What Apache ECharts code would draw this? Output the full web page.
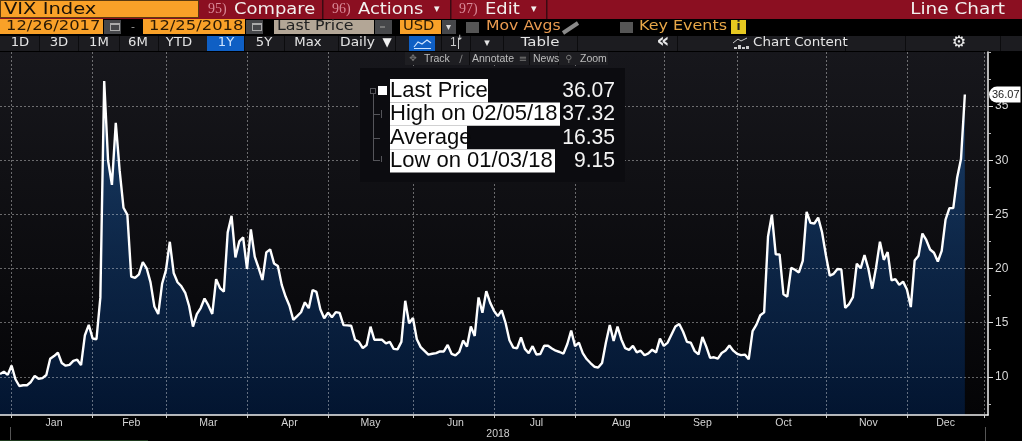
<!DOCTYPE html>
<html><head><meta charset="utf-8">
<style>html,body{margin:0;padding:0;background:#000}#c{width:1022px;height:441px}</style>
<script src="https://cdn.jsdelivr.net/npm/echarts@6/dist/echarts.min.js"></script>
</head><body><div id="c"></div>
<script>
const monthNames = ['Dec','Jan','Feb','Mar','Apr','May','Jun','Jul','Aug','Sep','Oct','Nov','Dec'];
const days = [
 [26,27,28,29],
 [2,3,4,5,8,9,10,11,12,16,17,18,19,22,23,24,25,26,29,30,31],
 [1,2,5,6,7,8,9,12,13,14,15,16,20,21,22,23,26,27,28],
 [1,2,5,6,7,8,9,12,13,14,15,16,19,20,21,22,23,26,27,28,29],
 [2,3,4,5,6,9,10,11,12,13,16,17,18,19,20,23,24,25,26,27,30],
 [1,2,3,4,7,8,9,10,11,14,15,16,17,18,21,22,23,24,25,29,30,31],
 [1,4,5,6,7,8,11,12,13,14,15,18,19,20,21,22,25,26,27,28,29],
 [2,3,5,6,9,10,11,12,13,16,17,18,19,20,23,24,25,26,27,30,31],
 [1,2,3,6,7,8,9,10,13,14,15,16,17,20,21,22,23,24,27,28,29,30,31],
 [4,5,6,7,10,11,12,13,14,17,18,19,20,21,24,25,26,27,28],
 [1,2,3,4,5,8,9,10,11,12,15,16,17,18,19,22,23,24,25,26,29,30,31],
 [1,2,5,6,7,8,9,12,13,14,15,16,19,20,21,23,26,27,28,29,30],
 [3,4,6,7,10,11,12,13,14,17,18,19,20,21,24,25,26,27,28,31]
];
const vixDec17 = [10.25,10.47,10.18,11.04];
const vixJan = [9.77,9.15,9.22,9.22,9.52,10.08,9.82,9.88,10.16,11.66,11.91,12.22,11.27,11.03,11.10,11.47,11.58,11.08,13.84,14.79,13.54];
const vixFeb = [13.47,17.31,37.32,29.98,27.73,33.46,29.06,25.61,24.97,19.26,19.13,19.46,20.60,20.02,18.72,16.49,15.80,18.59,19.85];
const vixMar = [22.47,19.59,18.73,18.36,17.76,16.54,14.64,15.78,16.35,17.23,16.59,15.80,19.02,18.20,17.86,23.34,24.87,21.03,22.50,22.87,19.97];
const vixApr = [23.62,21.10,20.06,18.94,21.49,21.77,20.47,20.24,18.49,17.41,16.56,15.25,15.60,15.96,16.88,16.34,18.02,17.84,16.24,15.41,15.93];
const vixMay = [15.49,15.97,15.90,14.77,14.75,14.71,13.42,13.23,12.65,12.93,14.63,13.42,13.43,13.42,13.08,13.22,12.58,12.53,13.22,17.02,14.94,15.43];
const vixJun = [13.46,12.74,12.40,12.05,12.13,12.18,12.35,12.34,12.94,12.12,11.98,12.31,13.35,12.79,14.64,13.77,17.33,15.92,17.91,16.85,16.09];
const vixJul = [15.60,16.14,14.97,13.37,12.69,12.64,13.63,12.58,12.18,12.83,12.06,12.10,12.87,12.86,12.62,12.41,12.29,12.14,13.03,14.26,12.83];
const vixAug = [13.15,12.19,11.64,11.27,10.93,10.85,11.27,13.16,14.78,13.31,14.64,13.45,12.64,12.49,12.86,12.25,12.41,11.99,12.16,12.50,12.25,13.53,12.86];
const vixSep = [13.16,13.91,14.65,14.88,14.16,13.22,13.14,12.37,12.07,13.68,12.79,11.75,11.80,11.68,12.20,12.42,12.89,12.41,12.12];
const vixOct = [12.00,12.05,11.61,14.22,14.82,15.69,15.95,22.96,24.98,21.31,21.30,17.62,17.40,20.06,19.89,19.64,20.71,25.23,24.22,24.16,24.70,23.35,21.23];
const vixNov = [19.34,19.51,19.96,19.91,16.36,16.72,17.36,20.45,20.02,21.25,19.98,18.14,20.10,22.48,20.80,21.52,18.90,19.02,18.49,18.79,18.07];
const vixDec = [16.44,20.74,21.19,23.23,22.64,21.76,21.46,20.65,21.63,24.52,25.58,25.58,28.38,30.11,36.07];
const yTickLabels = [10,15,20,25,30,35];
const yMinorTicks = [7.5,12.5,17.5,22.5,27.5,32.5,37.5,40];
const yMin = 6.47, yMax = 40;
const lastPrice = 36.07;
const legendRows = [
 ['Last Price','36.07'],['High on 02/05/18','37.32'],['Average','16.35'],['Low on 01/03/18','9.15']
];

const vix = [].concat(vixDec17,vixJan,vixFeb,vixMar,vixApr,vixMay,vixJun,vixJul,vixAug,vixSep,vixOct,vixNov,vixDec);
const categories = [];
const tickIdx = new Set(), labelMap = {};
let prevEnd = null;
days.forEach((ds,m)=>{
  ds.forEach(d=>categories.push(monthNames[m]+' '+d+(m===0?' 2017':' 2018')));
  const end = categories.length-1;
  tickIdx.add(end);
  if(prevEnd!==null) labelMap[Math.round((prevEnd+end)/2)] = monthNames[m];
  prevEnd = end;
});
categories.push('Jan 1 2019');

const F='"DejaVu Sans"', A='"Liberation Sans"';
const g=[];
function r(x,y,w,h,fill,z){g.push({type:'rect',shape:{x,y,width:w,height:h},style:{fill},z:z||10,silent:true});}
function t(s,x,y,size,color,o){o=o||{};g.push({type:'text',x,y,scaleX:o.sx||1,z:o.z||12,silent:true,style:{text:s,x:0,y:0,fill:color,
  font:(o.bold?'bold ':'')+size+'px '+(o.font||F),textAlign:o.align||'left',textVerticalAlign:'middle',
  backgroundColor:o.bg,padding:o.pad}});}
function poly(points,stroke,w){g.push({type:'polyline',shape:{points},style:{stroke,lineWidth:w||1,fill:null},z:12,silent:true});}
const ORG='#f9a128', RED='#8b0f21', DK='#46474a', PK='#d98a98', W='#f2f0ee';
// row 1
r(0,0,1022,19,RED); r(0,0,199,18,'#5a3a10'); r(1,1,197,16,ORG);
r(322,0,1.5,19,'#3a0a12'); r(450,0,1.5,19,'#3a0a12'); r(546,0,1.5,19,'#3a0a12');
t('VIX Index',4,9.5,16,'#1a1208',{sx:1.22});
t('95)',208,9.5,14,PK,{font:'"Liberation Serif"',sx:1}); t('Compare',234,9.5,16,W,{sx:1.12});
t('96)',332,9.5,14,PK,{font:'"Liberation Serif"'}); t('Actions',358,9.5,16,W,{sx:1.12}); t('▾',434,9.5,11,W);
t('97)',459,9.5,14,PK,{font:'"Liberation Serif"'}); t('Edit',485,9.5,16,W,{sx:1.12}); t('▾',531,9.5,11,W);
t('Line Chart',1005,9.5,16,W,{align:'right',sx:1.15});
// row 2
r(0,19,103,15,ORG); r(143,19,102,15,ORG); r(274,20,100,14,'#b3a696'); r(400,20,41,14,ORG);
[[104,17],[246,17],[375,17],[442,14]].forEach(b=>r(b[0],20,b[1],14,DK));
[[109],[251]].forEach(b=>{r(b[0]+1,23,10,8,'#aaa');r(b[0]+2,25,8,5,DK);});
r(380,26,5,2,'#777'); 
t('▾',446,27,10,'#ddd');
t('-',131,27,11,'#999');
t('12/26/2017',6,26.5,14,'#2a1a05',{sx:1.17}); t('12/25/2018',149,26.5,14,'#2a1a05',{sx:1.17});
t('Last Price',277,26.5,14,'#222',{sx:1.13}); t('USD',403,26.5,14,'#2a1a05',{sx:1.05});
r(466,22,13,11,'#555'); r(620,22,13,11,'#555');
t('Mov Avgs',486,26.5,14,'#e89a50',{sx:1.12}); poly([[563,33],[578,23]],'#8a8a8a',4);
t('Key Events',639,26.5,14,'#e8a848',{sx:1.14}); r(731,20,15,14,'#e6c820'); t('i',738.5,27,12,'#222',{bold:true,align:'center'});
// row 3
r(0,36,1022,15,'#1c1c20');
[39,78,119,158,207,244,284,338,395,441,470,503,577,677,845,905,1000].forEach(x=>r(x,36,1,15,'#0c0c0e',11));
r(207,36,37,15,'#0f5fc4',11); r(409,36,26,15,'#0f5fc4',11);
[['1D',20],['3D',59],['1M',99],['6M',138],['YTD',179],['5Y',264],['Max',308]].forEach(b=>t(b[0],b[1],43,12,'#e4e4e4',{align:'center',sx:1.1}));
t('1Y',226,43,12,'#cfe4ff',{align:'center',sx:1.1});
t('Daily',340,43,12,'#e4e4e4',{sx:1.15}); t('▼',387,43,12,'#f0f0f0',{align:'center'});
poly([[414,47],[418,42],[422,44],[427,40],[431,43]],'#cfe4ff',1.2); poly([[414,48.5],[431,48.5]],'#cfe4ff',1);
t('1ꜜ',450,43,12,'#ccc',{font:A}); r(458,38,1,11,'#ccc');
t('▾',487,43,11,'#e4e4e4',{align:'center'});
t('Table',540,43,13,'#e4e4e4',{align:'center',sx:1.15});
t('«',663,41.5,20,'#e8e8e8',{align:'center',bold:true});
[[734,47,2],[738,45,4],[742,47,2],[746,46,3]].forEach(b=>r(b[0],b[1],3,b[2],'#ccc',12)); poly([[733,43],[738,39],[741,41],[747,38]],'#ccc',1);
t('Chart Content',753,43,12,'#e4e4e4',{sx:1.12});
t('⚙',959,42.5,16,'#f0f0f0',{align:'center'});
// tool strip
r(405,52,203,13,'#1e1e22');
[[469],[529],[558]].forEach(b=>r(b[0],52,1,13,'#0c0c0e',11));
t('✥',413,59,9,'#777',{align:'center'}); t('Track',424,59,10.5,'#bdbdbd',{font:A});
t('∕',461,59,10,'#888',{align:'center'}); t('Annotate',472,59,10.5,'#bdbdbd',{font:A});
t('≡',523,59,10,'#777',{align:'center'}); t('News',533,59,10.5,'#bdbdbd',{font:A});
t('⚲',569,59,10,'#777',{align:'center'}); t('Zoom',580,59,10.5,'#bdbdbd',{font:A});
// legend panel
r(360,68,265,114,'#0c0c10');
r(373,94,1,66,'#55555a',11); r(370,88,6,6,'#55555a',11); r(371,89,4,4,'#0c0c10',11);
[114,138,160].forEach(y=>r(373,y,7,1,'#55555a',11)); r(381,110,1,8,'#55555a',11); r(381,156,1,6,'#55555a',11);
r(378,86,9,9,'#ffffff',12);
legendRows.forEach((row,i)=>{
  const y=91+i*23.4;
  r(390,y-12,[98,170,77,165][i],23.4,'#ffffff',11);
  t(row[0],390,y,22,'#0a0a0a',{font:A});
  t(row[1],615,y,22,'#f4f4f4',{font:A,align:'right',sx:0.96});
});
// footer bits
t('2018',498,434,10.5,'#cfcfcf',{font:A,align:'center'});
r(10,427,1,14,'#555'); r(985,427,1,14,'#555'); r(0,440,148,1,'#1e3a1e');

const sameY = {type:'value',position:'right',min:yMin,max:yMax};
const chart = echarts.init(document.getElementById('c'),null,{renderer:'canvas'});
chart.setOption({
  animation:false,
  backgroundColor:'#000',
  grid:{left:0,top:52,width:988,height:363,show:true,borderWidth:0,outerBoundsMode:'none',containLabel:false,
    backgroundColor:{type:'linear',x:0,y:0,x2:0,y2:1,colorStops:[{offset:0,color:'#17171c'},{offset:1,color:'#040406'}]}},
  xAxis:{type:'category',data:categories,boundaryGap:false,z:3,
    axisLine:{onZero:false,lineStyle:{color:'#f0f0f0',width:1.5}},
    axisTick:{interval:i=>tickIdx.has(i),length:3,lineStyle:{color:'#ccc'}},
    splitLine:{show:true,interval:i=>tickIdx.has(i),lineStyle:{color:'rgba(255,255,255,0.38)',type:[2,2],width:1}},
    axisLabel:{interval:i=>labelMap[i]!==undefined,formatter:(v,i)=>labelMap[i]||'',color:'#d4d4d4',fontFamily:A,fontSize:10.5,margin:3}
  },
  yAxis:[
    Object.assign({},sameY,{z:3,
      axisLine:{show:true,lineStyle:{color:'#f0f0f0',width:1.5}},
      axisTick:{show:true,length:5,customValues:yTickLabels,lineStyle:{color:'#ddd'}},
      axisLabel:{customValues:yTickLabels,color:'#d8d8d8',fontFamily:A,fontSize:12,margin:7},
      splitLine:{show:true,lineStyle:{color:'rgba(255,255,255,0.38)',type:[2,2],width:1}}}),
    Object.assign({},sameY,{z:3,
      axisLine:{show:false},
      axisTick:{show:true,length:3,customValues:yMinorTicks,lineStyle:{color:'#bbb'}},
      axisLabel:{show:false},splitLine:{show:false}}),
    Object.assign({},sameY,{z:5,
      axisLine:{show:false},axisTick:{show:false},splitLine:{show:false},
      axisLabel:{customValues:[lastPrice],formatter:v=>v.toFixed(2),color:'#222',backgroundColor:'#fff',
        fontFamily:A,fontSize:11,margin:1,padding:[3,1,2,3],borderRadius:[8,0,0,8]}})
  ],
  series:[{type:'line',data:vix,showSymbol:false,symbol:'none',z:2,
    lineStyle:{color:'#ffffff',width:2.4},
    areaStyle:{origin:'start',color:{type:'linear',x:0,y:0,x2:0,y2:1,colorStops:[{offset:0,color:'#1c4f88'},{offset:0.5,color:'#0e3260'},{offset:1,color:'#021c42'}]}}}],
  graphic:g
});
</script></body></html>
